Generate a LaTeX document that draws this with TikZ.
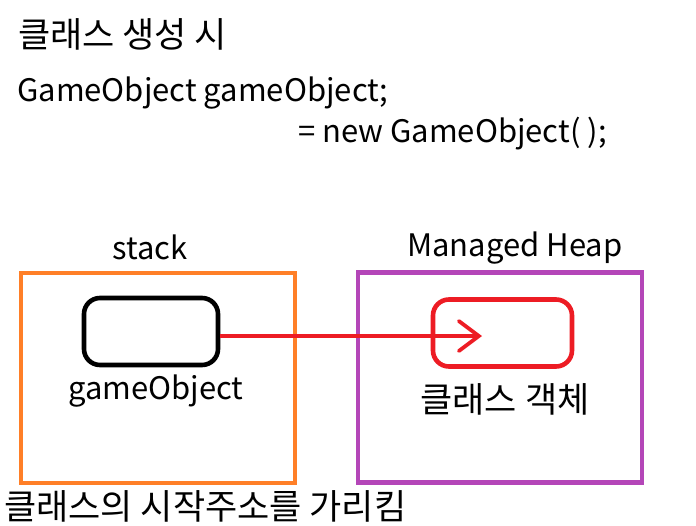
\documentclass[tikz,border=0pt]{standalone}
\usepackage{fontspec}
\setmainfont{Noto Sans CJK KR}
\usetikzlibrary{arrows.meta, positioning}
\definecolor{stackorange}{HTML}{FF7F27}
\definecolor{heappurple}{HTML}{B446B8}
\definecolor{refred}{HTML}{ED1C24}

\begin{document}
\begin{tikzpicture}[x=1pt, y=-1pt,
  >={Straight Barb[length=20pt, width=30pt, line cap=round]},
  txt/.style={font=\fontsize{31}{36}\selectfont, inner sep=0pt},
  hangul/.style={font=\fontsize{35}{40}\selectfont, inner sep=0pt},
  area/.style={draw=#1, line width=4.2pt, minimum width=274pt, minimum height=210pt, inner sep=0pt},
  slot/.style={draw=#1, line width=4.6pt, rounded corners=16pt, minimum width=134pt, minimum height=67pt, inner sep=0pt}]

\useasboundingbox (0,0) rectangle (696,525);

% Header
\node[hangul, anchor=west] (title) at (18,34) {클래스 생성 시};
\node[txt, anchor=west] (decl) at (17,93) {GameObject gameObject;};
\node[txt, anchor=west] (init) at (298,134) {= new GameObject( );};

% Memory areas
\node[area=stackorange] (stack) at (158,378) {};
\node[area=heappurple, minimum width=284pt] (heap) at (500,377.5) {};
\node[txt] (stacklbl) at (150,247) {stack};
\node[txt] (heaplbl) at (515,248) {Managed Heap};

\node[slot=black] (ref) at (151,331.5) {};
\node[slot=refred, minimum width=139pt] (obj) at (502.5,333) {};
\node[txt] (reflbl) at (156,391) {gameObject};
\node[hangul] (objlbl) at (505,399) {클래스 객체};

\coordinate (tip) at (482,336);
\draw[->, refred, line width=3.8pt] (ref.east |- tip) -- (tip);

\node[hangul, anchor=west] (note) at (4,506) {클래스의 시작주소를 가리킴};

\end{tikzpicture}
\end{document}
